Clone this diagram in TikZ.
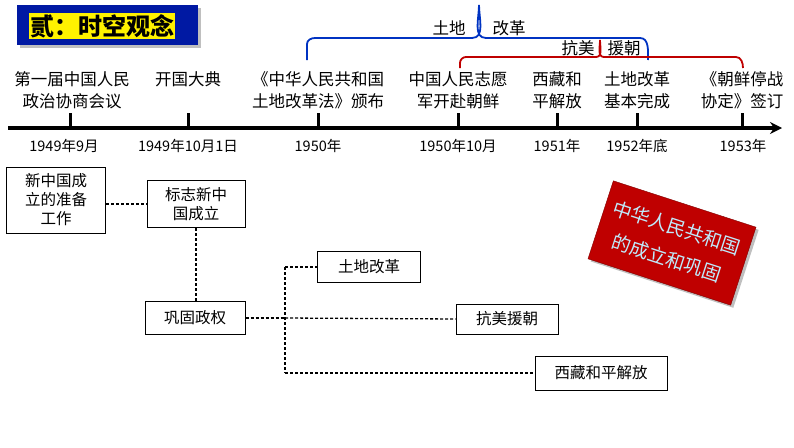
\documentclass[tikz,border=0pt]{standalone}
\usepackage{fontspec}
\setmainfont{Liberation Sans}
\newfontfamily\cjk{Noto Sans CJK SC}
\usetikzlibrary{arrows.meta,shadows}
\begin{document}
\begin{tikzpicture}[x=1pt,y=-1pt,font=\cjk,
  box/.style={draw,line width=1pt,fill=white,align=center,font=\cjk\fontsize{15.5}{19}\selectfont,inner sep=3pt},
  dl/.style={dash pattern=on 3pt off 2pt,line width=1.3pt},
  lab/.style={font=\cjk\fontsize{16.5}{22}\selectfont,align=center},
  yr/.style={font=\cjk\fontsize{14.5}{16}\selectfont}]
\useasboundingbox (0,0) rectangle (794,447);
% title
\fill[blue!60!black!90!cyan,drop shadow] (17,5) rectangle (198,45);
\node[fill=yellow,font=\cjk\bfseries\fontsize{24}{26}\selectfont,inner sep=1pt] (title) at (102,26) {贰：时空观念};
% timeline
\draw[line width=3.5pt,-{Stealth[length=12pt,width=12pt]}] (8,128) -- (782,128);
\foreach \x/\n in {70/a,188/b,318/c,458/d,557/e,637/f,742/g}{
  \draw[line width=3pt] (\x,113) coordinate (t\n) -- (\x,128);}
\node[lab] (la) at (72,90) {第一届中国人民\\政治协商会议};
\node[lab] (lb) at (188,79) {开国大典};
\node[lab] (lc) at (318,90) {《中华人民共和国\\土地改革法》颁布};
\node[lab] (ld) at (458,90) {中国人民志愿\\军开赴朝鲜};
\node[lab] (le) at (557,90) {西藏和\\平解放};
\node[lab] (lf) at (637,90) {土地改革\\基本完成};
\node[lab] (lg) at (742,90) {《朝鲜停战\\协定》签订};
\node[yr] at (64,146) {1949年9月};
\node[yr] at (188,146) {1949年10月1日};
\node[yr] at (318,146) {1950年};
\node[yr] at (458,146) {1950年10月};
\node[yr] at (557,146) {1951年};
\node[yr] at (637,146) {1952年底};
\node[yr] at (743,146) {1953年};
% braces
\draw[blue!70!black!80!cyan,line width=1.8pt] (307,60) -- (307,44) to[out=90,in=180] (315,38) -- (472,38) to[out=0,in=-90] (479,5) to[out=-90,in=180] (486,38) -- (640,38) to[out=0,in=90] (648,60);
\draw[red!75!black,line width=1.8pt] (460,68) -- (460,63) to[out=90,in=180] (466,57) -- (596,57) to[out=0,in=-90] (600,40) to[out=-90,in=180] (604,57) -- (736,57) to[out=0,in=90] (743,68);
\node[lab] (tudi) at (449,28) {土地};
\node[lab] (gaige) at (509,28) {改革};
\node[lab] (kang) at (578,48) {抗美};
\node[lab] (yuan) at (624,48) {援朝};
% lower boxes
\node[box,minimum width=99pt,minimum height=66pt] (p) at (56,200) {新中国成\\立的准备\\工作};
\node[box,minimum width=98pt,minimum height=47pt] (q) at (196,204) {标志新中\\国成立};
\node[box,minimum width=100pt,minimum height=33pt] (r) at (195,318) {巩固政权};
\node[box,minimum width=103pt,minimum height=31pt] (s) at (369,267) {土地改革};
\node[box,minimum width=102pt,minimum height=30pt] (u) at (507,319) {抗美援朝};
\node[box,minimum width=132pt,minimum height=34pt] (w) at (601,373) {西藏和平解放};
\coordinate (j) at (285,318);
\draw[dl] (p.east|-q) -- (q.west);
\draw[dl] (q.south) -- (r.north-|q.south);
\draw[dl] (r.east) -- (j);
\draw[dl] (285,267) -- (285,373);
\draw[dl] (285,267) -- (s.west);
\draw[dl] (j) -- (u.west);
\draw[dl] (285,373) -- (w.west);
% red badge
\node[rotate=-18,fill=red!75!black,draw=red!50!black,minimum width=150pt,minimum height=82pt,align=center,text=cyan!25!white,font=\cjk\fontsize{19}{32}\selectfont,drop shadow] (badge) at (672,243) {中华人民共和国\\的成立和巩固};
\end{tikzpicture}
\end{document}
